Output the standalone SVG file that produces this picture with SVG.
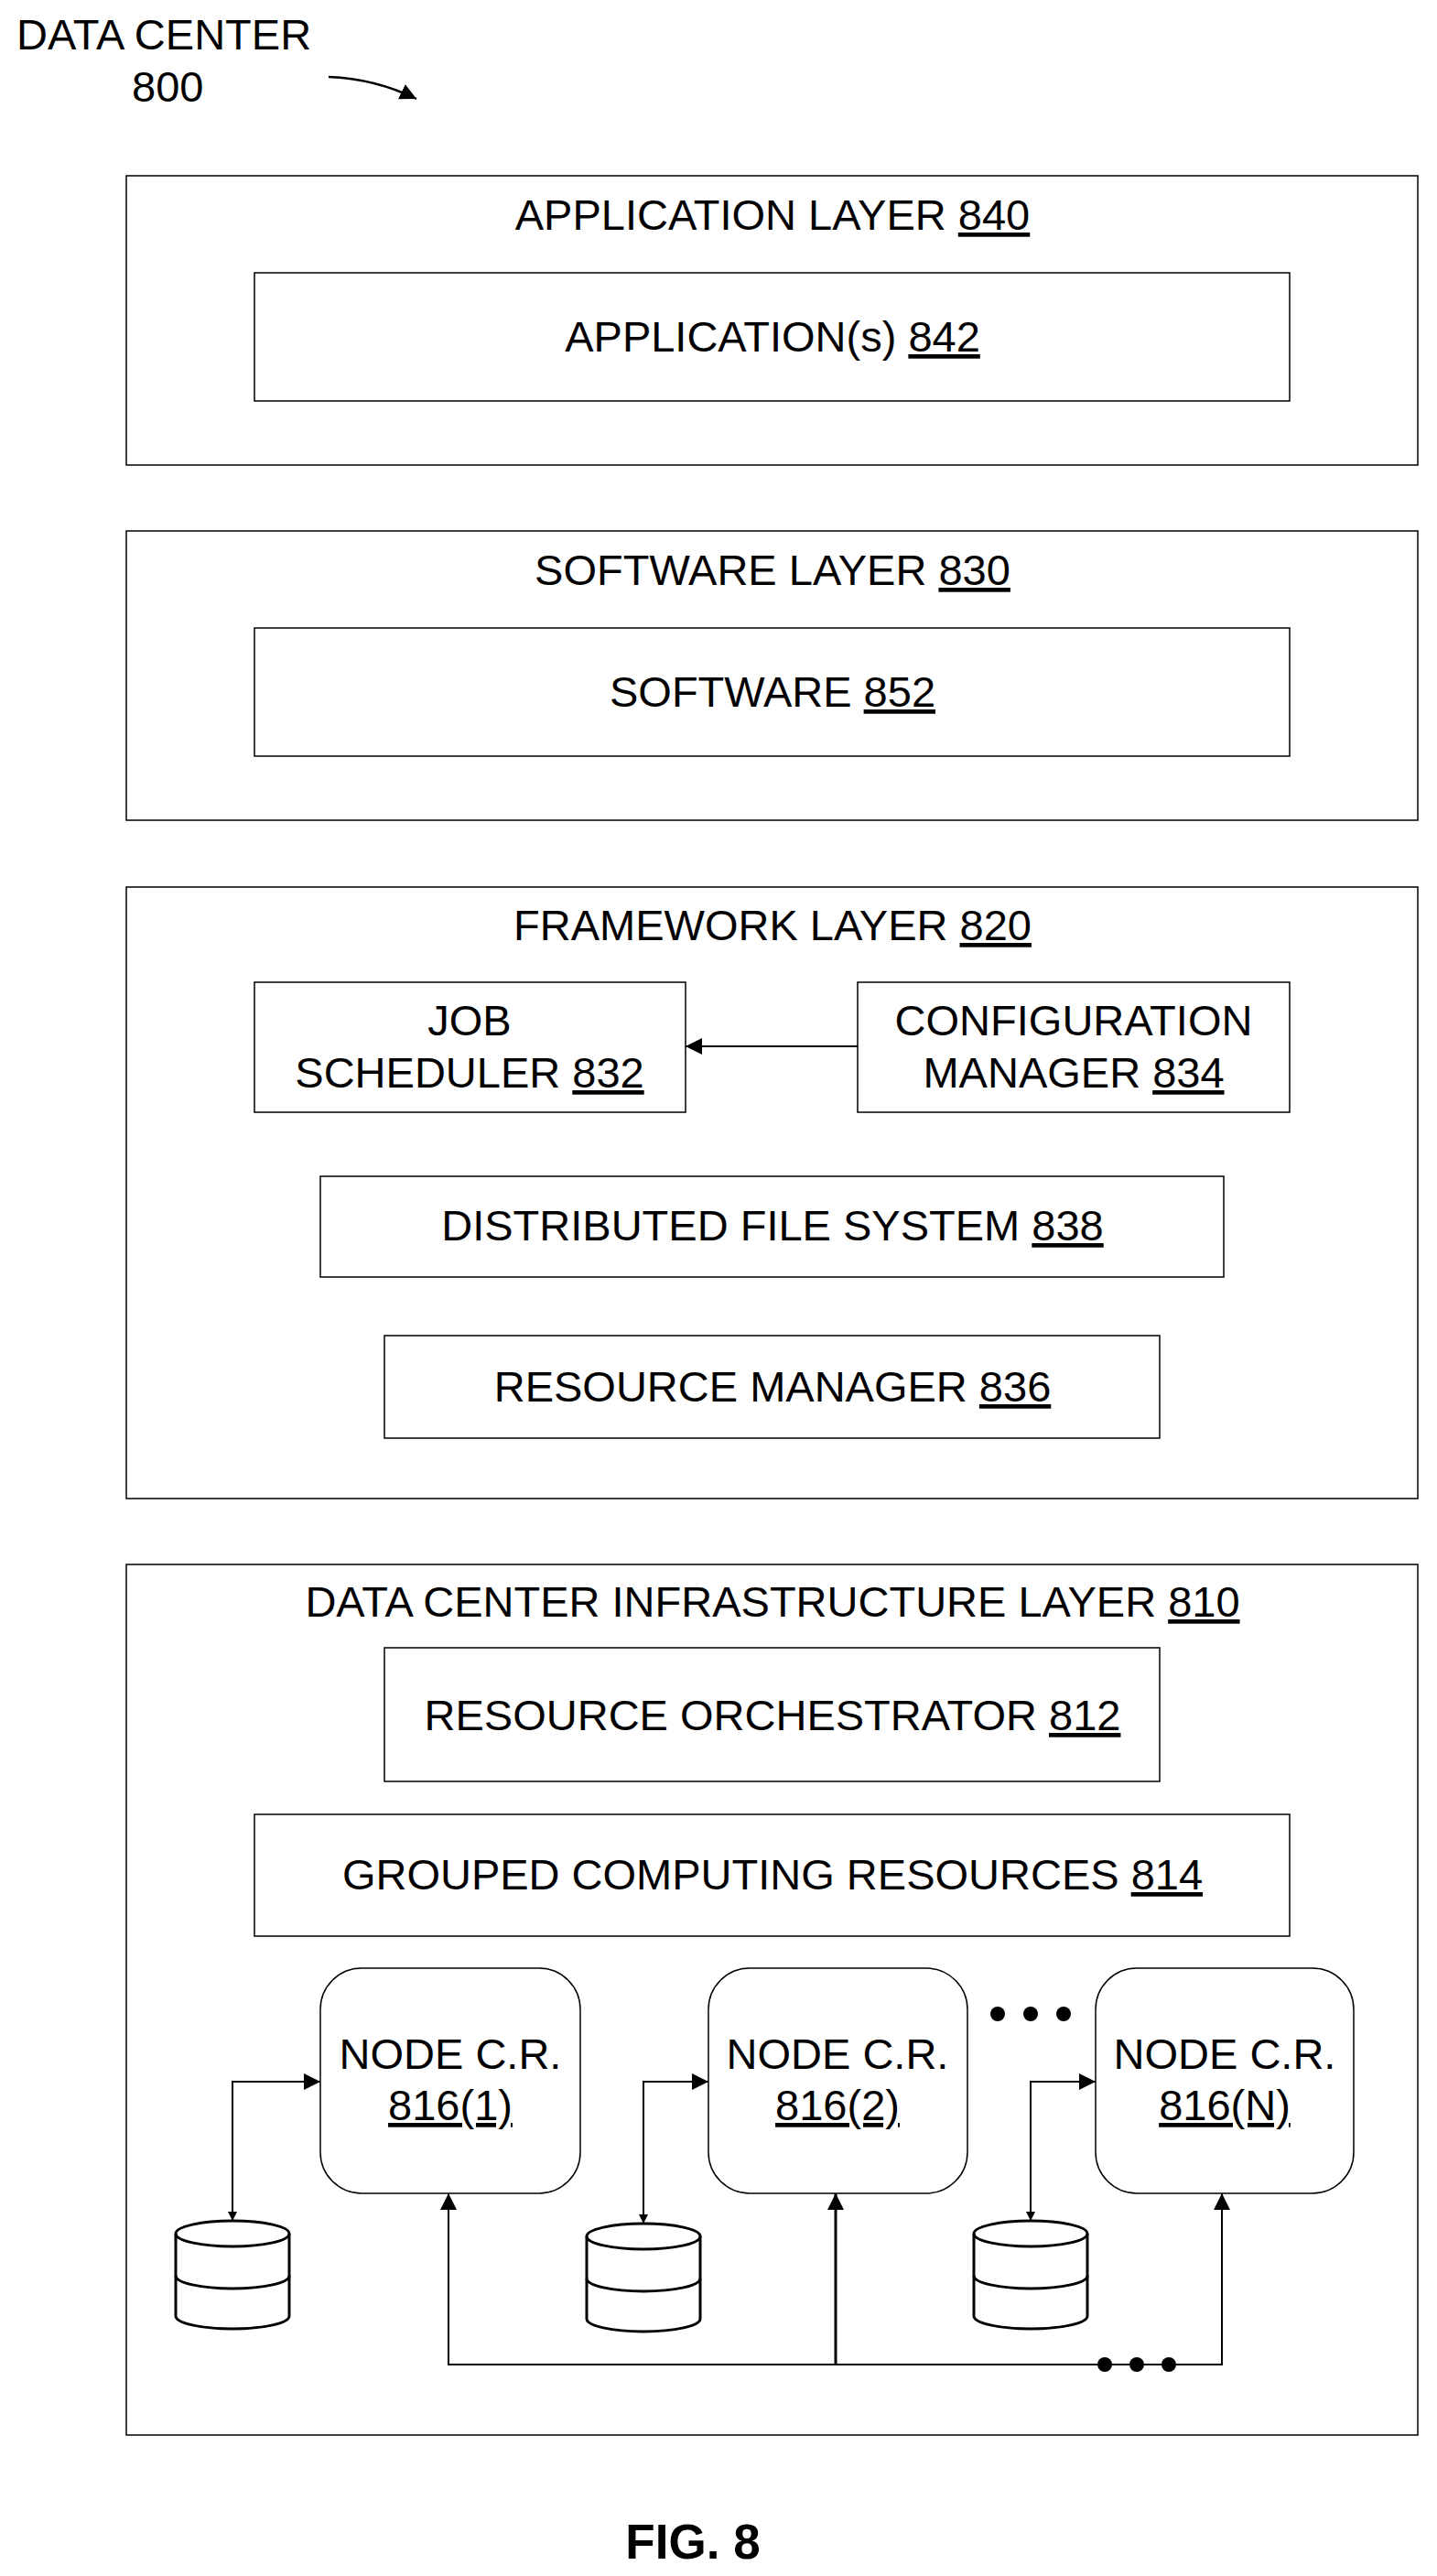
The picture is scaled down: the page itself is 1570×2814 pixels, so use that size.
<svg xmlns="http://www.w3.org/2000/svg" width="1570" height="2814" viewBox="0 0 1570 2814">
<style>
text{font-family:"Liberation Sans",Arial,sans-serif;font-size:47px;fill:#000;text-anchor:middle}
.u{text-decoration:underline}
.box{fill:none;stroke:#000;stroke-width:1.5}
.ln{fill:none;stroke:#000;stroke-width:2}
</style>
<defs>
<marker id="ah" viewBox="0 0 10 10" refX="10" refY="5" markerWidth="10" markerHeight="10" markerUnits="userSpaceOnUse" orient="auto-start-reverse"><path d="M0,0L10,5L0,10z"/></marker>
<marker id="ah2" viewBox="0 0 10 10" refX="10" refY="5" markerWidth="18" markerHeight="18" markerUnits="userSpaceOnUse" orient="auto-start-reverse"><path d="M0,0L10,5L0,10z"/></marker>
</defs>
<g id="title">
<text x="18" y="54" style="text-anchor:start">DATA CENTER</text>
<text x="144" y="111" style="text-anchor:start">800</text>
</g>
<g id="app-layer"><rect class="box" x="138" y="192" width="1411" height="316"/><text x="844" y="251">APPLICATION LAYER <tspan class="u">840</tspan></text></g>
<g id="apps"><rect class="box" x="278" y="298" width="1131" height="140"/><text x="844" y="384">APPLICATION(s) <tspan class="u">842</tspan></text></g>
<g id="sw-layer"><rect class="box" x="138" y="580" width="1411" height="316"/><text x="844" y="639">SOFTWARE LAYER <tspan class="u">830</tspan></text></g>
<g id="sw"><rect class="box" x="278" y="686" width="1131" height="140"/><text x="844" y="772">SOFTWARE <tspan class="u">852</tspan></text></g>
<g id="fw-layer"><rect class="box" x="138" y="969" width="1411" height="668"/><text x="844" y="1027">FRAMEWORK LAYER <tspan class="u">820</tspan></text></g>
<g id="job"><rect class="box" x="278" y="1073" width="471" height="142"/><text x="513" y="1131">JOB</text><text x="513" y="1188">SCHEDULER <tspan class="u">832</tspan></text></g>
<g id="cfg"><rect class="box" x="937" y="1073" width="472" height="142"/><text x="1173" y="1131">CONFIGURATION</text><text x="1173" y="1188">MANAGER <tspan class="u">834</tspan></text></g>
<g id="dfs"><rect class="box" x="350" y="1285" width="987" height="110"/><text x="844" y="1355">DISTRIBUTED FILE SYSTEM <tspan class="u">838</tspan></text></g>
<g id="rm"><rect class="box" x="420" y="1459" width="847" height="112"/><text x="844" y="1531">RESOURCE MANAGER <tspan class="u">836</tspan></text></g>
<g id="infra-layer"><rect class="box" x="138" y="1709" width="1411" height="951"/><text x="844" y="1766">DATA CENTER INFRASTRUCTURE LAYER <tspan class="u">810</tspan></text></g>
<g id="orch"><rect class="box" x="420" y="1800" width="847" height="146"/><text x="844" y="1890">RESOURCE ORCHESTRATOR <tspan class="u">812</tspan></text></g>
<g id="grouped"><rect class="box" x="278" y="1982" width="1131" height="133"/><text x="844" y="2064">GROUPED COMPUTING RESOURCES <tspan class="u">814</tspan></text></g>
<g id="node1"><rect class="box" x="350" y="2150" width="284" height="246" rx="45"/><text x="492" y="2260">NODE C.R.</text><text x="492" y="2316" class="u">816(1)</text></g>
<g id="node2"><rect class="box" x="774" y="2150" width="283" height="246" rx="45"/><text x="915" y="2260">NODE C.R.</text><text x="915" y="2316" class="u">816(2)</text></g>
<g id="nodeN"><rect class="box" x="1197" y="2150" width="282" height="246" rx="45"/><text x="1338" y="2260">NODE C.R.</text><text x="1338" y="2316" class="u">816(N)</text></g>
<g id="db1" class="ln" style="stroke-width:3"><path d="M192,2440v90a62,14 0 0 0 124,0v-90"/><ellipse cx="254" cy="2440" rx="62" ry="14"/><path d="M192,2486a62,14 0 0 0 124,0"/></g>
<g id="db2" class="ln" style="stroke-width:3"><path d="M641,2443v90a62,14 0 0 0 124,0v-90"/><ellipse cx="703" cy="2443" rx="62" ry="14"/><path d="M641,2489a62,14 0 0 0 124,0"/></g>
<g id="db3" class="ln" style="stroke-width:3"><path d="M1064,2440v90a62,14 0 0 0 124,0v-90"/><ellipse cx="1126" cy="2440" rx="62" ry="14"/><path d="M1064,2486a62,14 0 0 0 124,0"/></g>
<g id="dots" fill="#000">
<circle cx="1090" cy="2200" r="8"/><circle cx="1126" cy="2200" r="8"/><circle cx="1162" cy="2200" r="8"/>
<circle cx="1207" cy="2583" r="8"/><circle cx="1242" cy="2583" r="8"/><circle cx="1277" cy="2583" r="8"/>
</g>
<g id="connectors" class="ln">
<path d="M359,84Q410,86 455,108" marker-end="url(#ah2)" style="stroke-width:2.5"/>
<line x1="937" y1="1143" x2="749" y2="1143" marker-end="url(#ah2)"/>
<path d="M254,2426V2274H350" marker-start="url(#ah)" marker-end="url(#ah2)"/>
<path d="M703,2429V2274H774" marker-start="url(#ah)" marker-end="url(#ah2)"/>
<path d="M1126,2426V2274H1197" marker-start="url(#ah)" marker-end="url(#ah2)"/>
<path d="M1335,2583H490V2396" marker-end="url(#ah2)"/>
<path d="M1199,2583H1335V2396" marker-end="url(#ah2)"/>
<line x1="913" y1="2583" x2="913" y2="2396" marker-end="url(#ah2)" style="stroke-width:3"/>
</g>
<text x="757" y="2795" style="font-weight:bold;font-size:53px">FIG. 8</text>
</svg>
